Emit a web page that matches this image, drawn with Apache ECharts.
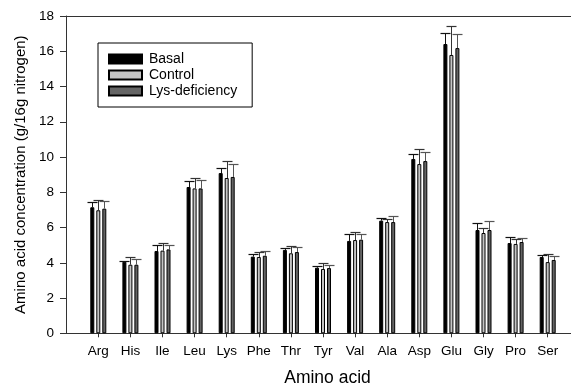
<!DOCTYPE html>
<html><head><meta charset="utf-8">
<script src="https://cdn.jsdelivr.net/npm/echarts@6/dist/echarts.min.js"></script>
<style>html,body{margin:0;padding:0;background:#fff}#c{width:571px;height:385px}</style>
</head><body><div id="c"></div>
<script>
const categories = ['Arg','His','Ile','Leu','Lys','Phe','Thr','Tyr','Val','Ala','Asp','Glu','Gly','Pro','Ser'];
const basal      = [7.15,4.06,4.67,8.30,9.09,4.35,4.73,3.72,5.24,6.39,9.89,16.41,5.86,5.12,4.33];
const basalErr   = [0.28,0.04,0.32,0.32,0.30,0.13,0.09,0.11,0.37,0.17,0.26,0.61,0.41,0.36,0.11];
const control    = [6.98,3.89,4.69,8.22,8.81,4.33,4.54,3.65,5.29,6.31,9.60,15.79,5.69,5.07,4.04];
const controlErr = [0.56,0.46,0.45,0.59,0.98,0.30,0.41,0.35,0.44,0.19,0.87,1.62,0.28,0.30,0.46];
const lysDef     = [7.07,3.89,4.76,8.22,8.87,4.40,4.61,3.70,5.31,6.31,9.77,16.18,5.86,5.18,4.16];
const lysDefErr  = [0.43,0.32,0.25,0.49,0.71,0.29,0.30,0.19,0.34,0.36,0.53,0.80,0.51,0.23,0.22];
const seriesNames = ['Basal','Control','Lys-deficiency'];
const yMin = 0, yMax = 18, yStep = 2;

const FONT = '"Liberation Sans", Arial, sans-serif';
const TOP = 16, H = 317.3;
const groups = [
  {name: seriesNames[0], values: basal,   err: basalErr,   color: '#000000', errColor: '#111111', off: -6},
  {name: seriesNames[1], values: control, err: controlErr, color: '#c4c4c4', errColor: '#333333', off: 0},
  {name: seriesNames[2], values: lysDef,  err: lysDefErr,  color: '#646464', errColor: '#555555', off: 6}
];

const series = [];
groups.forEach(g => {
  series.push({
    type: 'bar', name: g.name, xAxisIndex: 2, yAxisIndex: 1,
    data: g.values, barWidth: 4, barGap: '50%',
    itemStyle: {color: g.color, borderColor: '#000', borderWidth: 1},
    emphasis: {disabled: true}, animation: false, z: 2
  });
});
groups.forEach(g => {
  series.push({
    type: 'custom', name: g.name + ' err', xAxisIndex: 2, yAxisIndex: 1,
    data: g.values.map((v, i) => [i, v, g.err[i]]),
    encode: {x: 0, y: 1}, animation: false, z: 3, silent: true,
    renderItem: (params, api) => {
      const i = api.value(0), v = api.value(1), e = api.value(2);
      const p0 = api.coord([i, v]);
      const p1 = api.coord([i, v + e]);
      const x = Math.round(p0[0] + g.off) + 0.5;
      const yt = Math.round(p1[1]) + 0.5;
      return {type: 'group', children: [
        {type: 'line', shape: {x1: x, y1: p0[1], x2: x, y2: yt}, style: {stroke: g.errColor, lineWidth: 1}},
        {type: 'line', shape: {x1: x - 5, y1: yt, x2: x + 5, y2: yt}, style: {stroke: g.errColor, lineWidth: 1.2}}
      ]};
    }
  });
});

const axisLineStyle = {color: '#333', width: 1};
const option = {
  backgroundColor: '#fff',
  animation: false,
  textStyle: {fontFamily: FONT},
  grid: [
    {left: 66, top: TOP, width: 505, height: H, containLabel: false, outerBoundsMode: 'none'},
    {left: 82.25, top: TOP, width: 481.5, height: H, containLabel: false, outerBoundsMode: 'none'}
  ],
  legend: {
    orient: 'vertical', left: 98, top: 43,
    data: seriesNames, icon: 'rect', itemWidth: 33, itemHeight: 9, itemGap: 2,
    padding: [9, 15, 9, 10],
    borderColor: '#000', borderWidth: 1,
    selectedMode: false,
    textStyle: {fontFamily: FONT, fontSize: 14, color: '#000', padding: [0, 0, 0, 2]}
  },
  xAxis: [
    {gridIndex: 0, type: 'value', min: 0, max: 1, position: 'bottom',
     axisLine: {show: true, lineStyle: axisLineStyle}, axisTick: {show: false},
     axisLabel: {show: false}, splitLine: {show: false}},
    {gridIndex: 0, type: 'value', min: 0, max: 1, position: 'top',
     axisLine: {show: true, lineStyle: axisLineStyle}, axisTick: {show: false},
     axisLabel: {show: false}, splitLine: {show: false}},
    {gridIndex: 1, type: 'category', data: categories, position: 'bottom',
     axisLine: {show: false}, axisTick: {show: true, alignWithLabel: true, length: 4, lineStyle: axisLineStyle},
     axisLabel: {fontFamily: FONT, fontSize: 13.5, color: '#000', margin: 11},
     name: 'Amino acid', nameLocation: 'middle', nameGap: 36,
     nameTextStyle: {fontFamily: FONT, fontSize: 17.5, color: '#000', padding: [0, 0, 0, 9]}}
  ],
  yAxis: [
    {gridIndex: 0, type: 'value', min: yMin, max: yMax, interval: yStep,
     axisLine: {show: true, lineStyle: axisLineStyle},
     axisTick: {show: true, length: 6, lineStyle: axisLineStyle},
     axisLabel: {fontFamily: FONT, fontSize: 13.5, color: '#000', margin: 12},
     splitLine: {show: false},
     name: 'Amino acid concentration (g/16g nitrogen)', nameLocation: 'middle', nameGap: 38,
     nameTextStyle: {fontFamily: FONT, fontSize: 15, color: '#000'}},
    {gridIndex: 1, type: 'value', min: yMin, max: yMax, interval: yStep, show: false}
  ],
  series: series
};
const chart = echarts.init(document.getElementById('c'));
chart.setOption(option);
</script></body></html>
